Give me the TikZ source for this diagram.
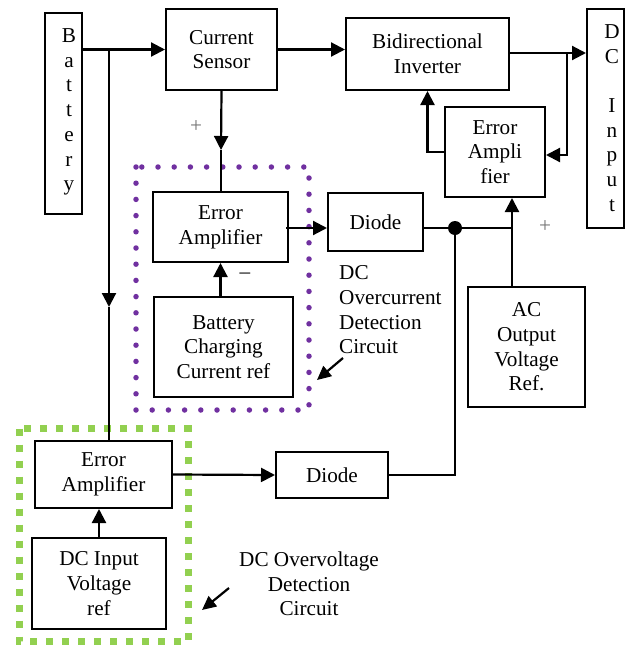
\documentclass[tikz,border=0pt]{standalone}
\usepackage{fontspec}
\setmainfont{Liberation Serif}
\usetikzlibrary{arrows.meta,calc}
\definecolor{violetdot}{RGB}{112,48,160}
\definecolor{greendash}{RGB}{146,208,80}
\begin{document}
\begin{tikzpicture}[x=1pt,y=-1pt,
  every node/.style={font=\fontsize{21.2}{24.7}\selectfont},
  blk/.style={draw, line width=2pt, inner sep=0pt, align=center},
  txt/.style={inner sep=0pt, align=center},
  wire/.style={line width=2.2pt},
  arr/.style={wire, -{Triangle[length=14pt,width=14pt]}},
  sarr/.style={line width=2.2pt, -{Triangle[length=14pt,width=13pt]}},
  sign/.style={inner sep=0pt, text=black!55},
  dotn/.style={circle, fill=black, inner sep=0pt, minimum size=14pt},
  purplebox/.style={violetdot, line width=5.5pt, line cap=round, dash pattern=on 0pt off 16.2pt},
  greenbox/.style={greendash, line width=7pt, dash pattern=on 7pt off 9pt}]
\useasboundingbox (0,0) rectangle (629,646);

% group outlines
\draw[purplebox] (136,167) rectangle (309,410);
\draw[greenbox] (19,428.5) rectangle (188,641.5);

% blocks
\node[blk, minimum width=37pt, minimum height=201pt] (bat) at (63.5,113.5) {};
\node[txt] (battxt) at (69,112) {B\\a\\t\\t\\e\\r\\y};
\node[blk, minimum width=111pt, minimum height=81pt] (cs) at (221.5,49.5) {Current\\Sensor};
\node[blk, minimum width=163pt, minimum height=72pt] (inv) at (427.5,54) {Bidirectional\\Inverter};
\node[blk, minimum width=37pt, minimum height=219pt] (dcin) at (605.5,118.5) {};
\node[txt] (dcintxt) at (612,118) {D\\C\\\mbox{}\\I\\n\\p\\u\\t};
\node[blk, minimum width=100pt, minimum height=90pt] (ea3) at (495,152) {Error\\Ampli\\fier};
\node[blk, minimum width=95pt, minimum height=58pt] (diodeT) at (375.5,222) {Diode};
\node[blk, minimum width=135pt, minimum height=70pt] (ea1) at (220.5,227) {Error\\Amplifier};
\node[blk, minimum width=139pt, minimum height=100pt] (bccr) at (223.5,347) {Battery\\Charging\\Current ref};
\node[blk, minimum width=117pt, minimum height=120pt] (acref) at (526.5,347) {AC\\Output\\Voltage\\Ref.};
\node[blk, minimum width=137pt, minimum height=67pt] (ea2) at (103.5,474.5) {Error\\Amplifier};
\node[blk, minimum width=134pt, minimum height=91pt] (divr) at (99,583.5) {DC Input\\Voltage\\ref};
\node[blk, minimum width=112pt, minimum height=46pt] (diodeB) at (332,475) {Diode};

% coordinates
\coordinate (j1) at (109,49.5);
\coordinate (j1arr) at (109,307);
\coordinate (csarr) at (221,150);
\coordinate (j2) at (567,53);
\coordinate (vx) at (512,228);
\node[dotn] (dot) at (455,228) {};

% connectors
\draw[arr] (bat.east |- cs.west) -- (cs.west);
\draw[arr] (j1) -- (j1arr);
\draw[wire] (j1arr) -- (j1arr |- ea2.north);
\draw[arr] (cs.south) -- (csarr);
\draw[wire] (csarr) -- (csarr |- ea1.north);
\draw[arr] (cs.east) -- (cs.east -| inv.west);
\draw[arr] (inv.east |- j2) -- (j2 -| dcin.west);
\draw[arr] (j2) |- ([yshift=-3pt]ea3.east);
\draw[arr] (ea3.west) -| (inv.south);
\draw[arr] ([xshift=-3pt]ea1.east |- vx) -- (vx -| diodeT.west);
\draw[wire] (diodeT.east |- vx) -- (vx);
\draw[arr] (acref.north -| vx) -- (ea3.south -| vx);
\draw[wire] (dot) -- (dot |- diodeB.east) -- (diodeB.east);
\draw[arr] (ea1.south |- bccr.north) -- (ea1.south);
\draw[arr] (divr.north) -- (divr.north |- ea2.south);
\draw[arr] (ea2.east) -- (diodeB.west);

% signs
\node[sign] (plus1) at (196,127) {+};
\node[sign] (plus2) at (545,227) {+};
\node[inner sep=0pt] (minus1) at (245,276) {\textendash};

% group labels
\node[txt, anchor=west, align=left] (oclabel) at (339,310) {DC\\Overcurrent\\Detection\\Circuit};
\coordinate (oca1) at (343,358);
\coordinate (oca2) at (317,380);
\draw[sarr] (oca1) -- (oca2);
\node[txt] (ovlabel) at (309,584) {DC Overvoltage\\Detection\\Circuit};
\coordinate (ova1) at (229,588);
\coordinate (ova2) at (202,610);
\draw[sarr] (ova1) -- (ova2);
\end{tikzpicture}
\end{document}
